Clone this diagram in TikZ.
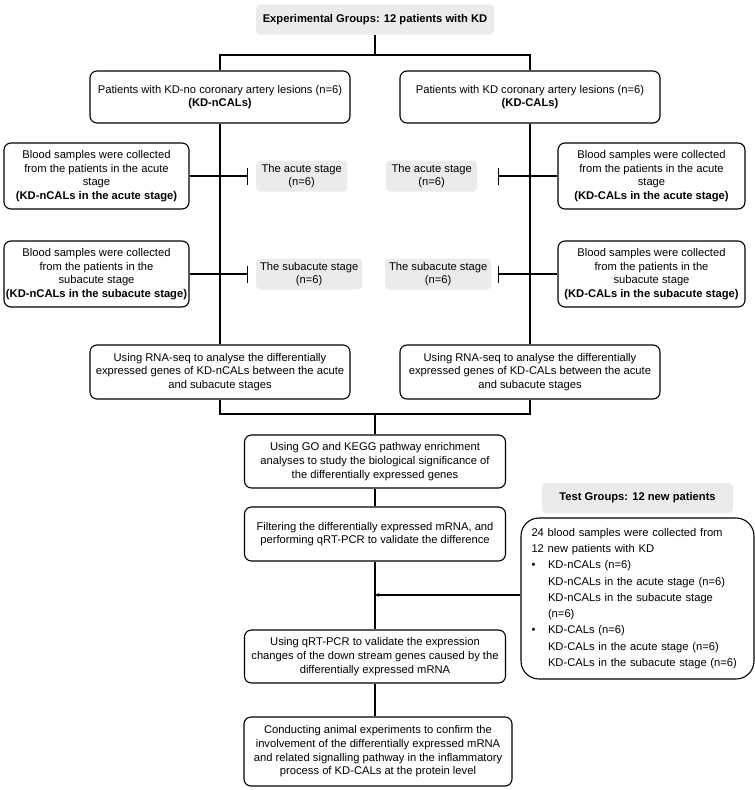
\documentclass[tikz,border=0pt]{standalone}
\usepackage{fontspec}
\setmainfont{Liberation Sans}
\usetikzlibrary{arrows.meta}
\definecolor{labelgrey}{RGB}{236,235,233}
\tikzset{
  box/.style={draw, line width=1.1pt, rounded corners=7pt, align=center,
    inner xsep=1pt, inner ysep=0pt, font=\fontsize{11.2}{13.7}\selectfont},
  greylabel/.style={fill=labelgrey, rounded corners=4pt, align=center,
    inner sep=0pt, font=\fontsize{11.2}{13.7}\selectfont},
  link/.style={line width=1.1pt},
  barlink/.style={link, -{Bar[width=17pt,line width=1.1pt]}}
}
\begin{document}
\begin{tikzpicture}[x=1pt, y=-1pt]
\useasboundingbox (0,0) rectangle (755,790);
% top of the experiment
\node[greylabel, minimum width=238, minimum height=30, font=\fontsize{11.2}{13.7}\selectfont\bfseries] (top) at (375,19.5) {Experimental Groups: 12 patients with KD};
\node[box, minimum width=260, minimum height=52] (nCAL) at (220,97) {Patients with KD-no coronary artery lesions (n=6)\\\textbf{(KD-nCALs)}};
\node[box, minimum width=260, minimum height=52] (CAL) at (530,97) {Patients with KD coronary artery lesions (n=6)\\\textbf{(KD-CALs)}};
% blood samples
\node[box, minimum width=185, minimum height=66] (nAcute) at (96.5,176) {Blood samples were collected\\from the patients in the acute\\stage\\\textbf{(KD-nCALs in the acute stage)}};
\node[box, minimum width=187, minimum height=66] (cAcute) at (651.5,176) {Blood samples were collected\\from the patients in the acute\\stage\\\textbf{(KD-CALs in the acute stage)}};
\node[box, minimum width=185, minimum height=66] (nSub) at (96.5,274) {Blood samples were collected\\from the patients in the\\subacute stage\\\textbf{(KD-nCALs in the subacute stage)}};
\node[box, minimum width=187, minimum height=66] (cSub) at (651.5,274) {Blood samples were collected\\from the patients in the\\subacute stage\\\textbf{(KD-CALs in the subacute stage)}};
% stage labels
\node[greylabel, anchor=west, minimum width=91, minimum height=31] (nAcuteLab) at (256,176) {The acute stage\\(n=6)};
\node[greylabel, anchor=west, minimum width=91, minimum height=31] (cAcuteLab) at (386,176) {The acute stage\\(n=6)};
\node[greylabel, anchor=west, minimum width=106, minimum height=31] (nSubLab) at (256,274) {The subacute stage\\(n=6)};
\node[greylabel, anchor=west, minimum width=106, minimum height=31] (cSubLab) at (385,274) {The subacute stage\\(n=6)};
\coordinate (nAcuteBar) at (248,176);
\coordinate (cAcuteBar) at (497.5,176);
\coordinate (nSubBar) at (248,274);
\coordinate (cSubBar) at (497.5,274);
% RNA-seq
\node[box, minimum width=260, minimum height=54] (nSeq) at (220,372) {Using RNA-seq to analyse the differentially\\expressed genes of KD-nCALs between the acute\\and subacute stages};
\node[box, minimum width=260, minimum height=54] (cSeq) at (530,372) {Using RNA-seq to analyse the differentially\\expressed genes of KD-CALs between the acute\\and subacute stages};
% main line
\node[box, minimum width=261, minimum height=53] (go) at (375,461.5) {Using GO and KEGG pathway enrichment\\analyses to study the biological significance of\\the differentially expressed genes};
\node[box, minimum width=261, minimum height=54] (filter) at (375,534) {Filtering the differentially expressed mRNA, and\\performing qRT-PCR to validate the difference};
\node[box, minimum width=261, minimum height=53] (pcr) at (375,656.5) {Using qRT-PCR to validate the expression\\changes of the down stream genes caused by the\\differentially expressed mRNA};
\node[box, minimum width=268, minimum height=69] (animal) at (378,751.5) {Conducting animal experiments to confirm the\\involvement of the differentially expressed mRNA\\and related signalling pathway in the inflammatory\\process of KD-CALs at the protein level};
% test groups
\node[greylabel, minimum width=191, minimum height=30, font=\fontsize{11.2}{13.7}\selectfont\bfseries] (testTop) at (637.5,498) {Test Groups: 12 new patients};
\node[box, rounded corners=18pt, align=left, text width=212, inner xsep=10.5pt, minimum height=161,
  font=\fontsize{11.2}{16.25}\selectfont] (test) at (637.5,598.5) {24 blood samples were collected from\\
12 new patients with KD\\
\makebox[16.5pt][l]{\textbullet}KD-nCALs (n=6)\\
\hspace*{16.5pt}KD-nCALs in the acute stage (n=6)\\
\hspace*{16.5pt}KD-nCALs in the subacute stage\\
\hspace*{16.5pt}(n=6)\\
\makebox[16.5pt][l]{\textbullet}KD-CALs (n=6)\\
\hspace*{16.5pt}KD-CALs in the acute stage (n=6)\\
\hspace*{16.5pt}KD-CALs in the subacute stage (n=6)};
\coordinate (split) at (375,55);
\coordinate (join) at (375,414);
\coordinate (merge) at (375,595);
% connectors
\draw[link] (top.south) -- (split) -| (nCAL.north);
\draw[link] (split) -| (CAL.north);
\draw[link] (nCAL.south) -- (nSeq.north);
\draw[link] (CAL.south) -- (cSeq.north);
\draw[barlink] (nAcute.east) -- (nAcuteBar);
\draw[barlink] (cAcute.west) -- (cAcuteBar);
\draw[barlink] (nSub.east) -- (nSubBar);
\draw[barlink] (cSub.west) -- (cSubBar);
\draw[link] (nSeq.south) |- (join) -| (cSeq.south);
\draw[link] (join) -- (go.north);
\draw[link] (go.south) -- (filter.north);
\draw[link] (filter.south) -- (pcr.north);
\draw[link] (pcr.south) -- (pcr.south |- animal.north);
\draw[link, -{Stealth[length=4pt,width=3.5pt]}] (test.west |- merge) -- (merge);
\end{tikzpicture}
\end{document}
